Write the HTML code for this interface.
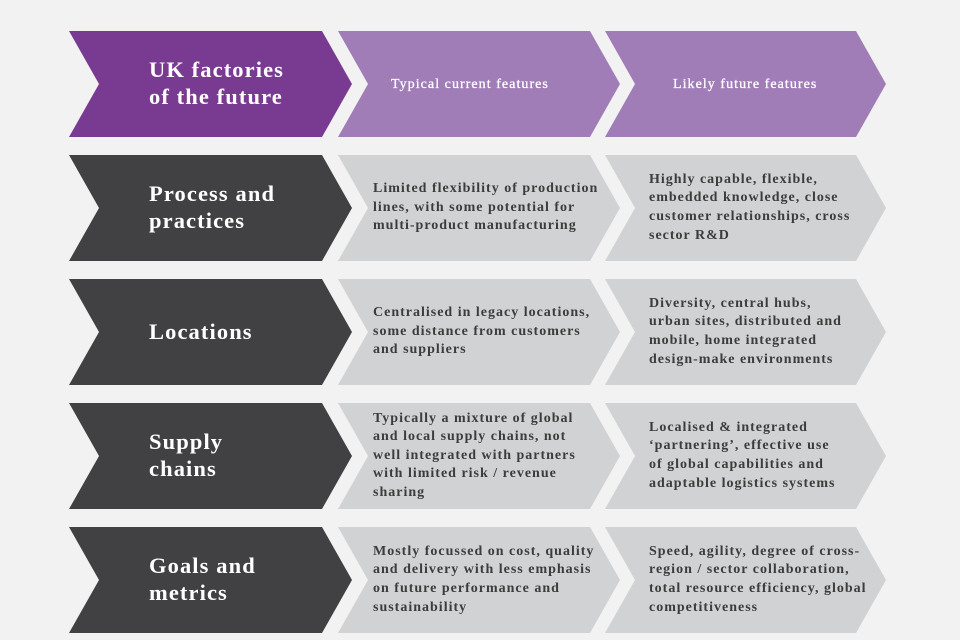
<!DOCTYPE html>
<html><head><meta charset="utf-8"><style>
body{margin:0;width:960px;height:640px;background:#f2f2f2;position:relative;overflow:hidden;font-family:"Liberation Serif",serif;font-weight:bold}
svg{position:absolute;left:0;top:0}
.t{position:absolute;display:flex;flex-direction:column;justify-content:center;height:106px;white-space:nowrap}
.h{color:#fff;font-size:22.5px;line-height:27px;letter-spacing:1.1px}
.b{color:#3c3c3c;font-size:14px;line-height:18.6px;letter-spacing:1px}
.s{color:#fff;font-size:14px;letter-spacing:1.05px;font-weight:normal;-webkit-text-stroke:0.3px #fff}
</style></head><body>
<svg width="960" height="640">
<polygon points="69,31 322,31 352,84 322,137 69,137 99,84" fill="#793b91"/>
<polygon points="338,31 590,31 620,84 590,137 338,137 368,84" fill="#a17db8"/>
<polygon points="605,31 856,31 886,84 856,137 605,137 635,84" fill="#a17db8"/>
<g fill="#414042">
<polygon points="69,155 322,155 352,208 322,261 69,261 99,208"/>
<polygon points="69,279 322,279 352,332 322,385 69,385 99,332"/>
<polygon points="69,403 322,403 352,456 322,509 69,509 99,456"/>
<polygon points="69,527 322,527 352,580 322,633 69,633 99,580"/>
</g>
<g fill="#d1d2d3">
<polygon points="338,155 590,155 620,208 590,261 338,261 368,208"/>
<polygon points="338,279 590,279 620,332 590,385 338,385 368,332"/>
<polygon points="338,403 590,403 620,456 590,509 338,509 368,456"/>
<polygon points="338,527 590,527 620,580 590,633 338,633 368,580"/>
<polygon points="605,155 856,155 886,208 856,261 605,261 635,208"/>
<polygon points="605,279 856,279 886,332 856,385 605,385 635,332"/>
<polygon points="605,403 856,403 886,456 856,509 605,509 635,456"/>
<polygon points="605,527 856,527 886,580 856,633 605,633 635,580"/>
</g>
</svg>
<div class="t h" style="left:149px;top:30px">UK factories<br>of the future</div>
<div class="t s" style="left:391px;top:32px">Typical current features</div>
<div class="t s" style="left:673px;top:32px">Likely future features</div>

<div class="t h" style="left:149px;top:154px">Process and<br>practices</div>
<div class="t b" style="left:373px;top:155px">Limited flexibility of production<br>lines, with some potential for<br>multi-product manufacturing</div>
<div class="t b" style="left:649px;top:155px">Highly capable, flexible,<br>embedded knowledge, close<br>customer relationships, cross<br>sector R&amp;D</div>

<div class="t h" style="left:149px;top:278px">Locations</div>
<div class="t b" style="left:373px;top:279px">Centralised in legacy locations,<br>some distance from customers<br>and suppliers</div>
<div class="t b" style="left:649px;top:279px">Diversity, central hubs,<br>urban sites, distributed and<br>mobile, home integrated<br>design-make environments</div>

<div class="t h" style="left:149px;top:402px">Supply<br>chains</div>
<div class="t b" style="left:373px;top:403px">Typically a mixture of global<br>and local supply chains, not<br>well integrated with partners<br>with limited risk / revenue<br>sharing</div>
<div class="t b" style="left:649px;top:403px">Localised &amp; integrated<br>‘partnering’, effective use<br>of global capabilities and<br>adaptable logistics systems</div>

<div class="t h" style="left:149px;top:526px">Goals and<br>metrics</div>
<div class="t b" style="left:373px;top:527px">Mostly focussed on cost, quality<br>and delivery with less emphasis<br>on future performance and<br>sustainability</div>
<div class="t b" style="left:649px;top:527px">Speed, agility, degree of cross-<br>region / sector collaboration,<br>total resource efficiency, global<br>competitiveness</div>
</body></html>
